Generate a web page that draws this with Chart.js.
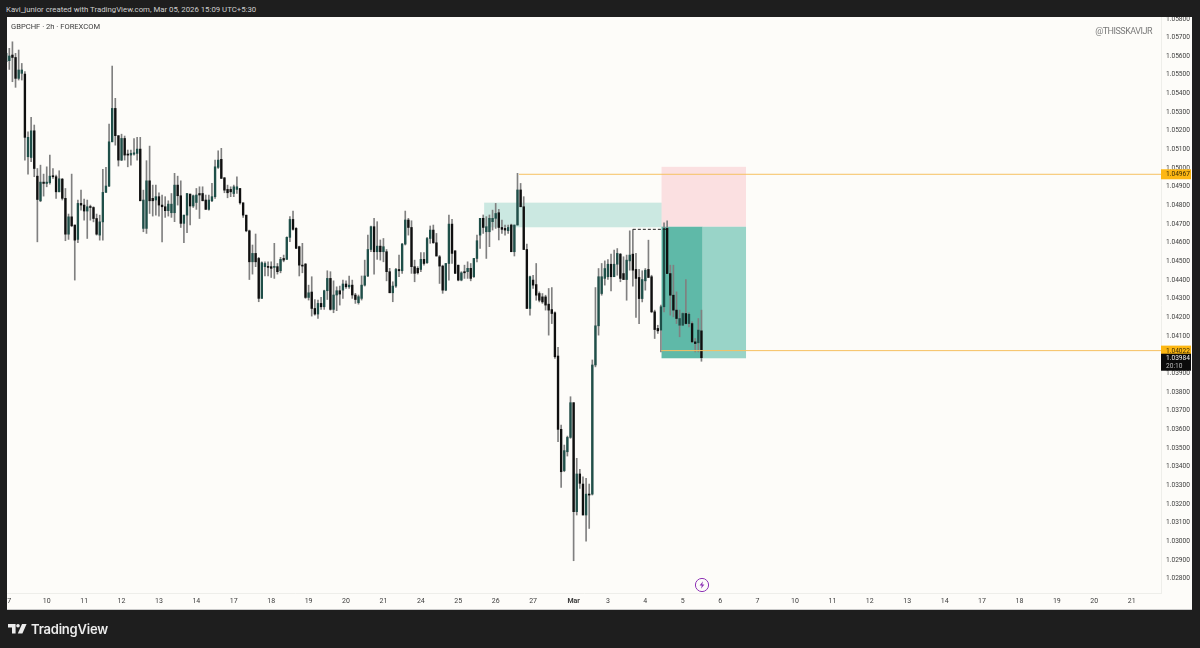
<!DOCTYPE html>
<html>
<head>
<meta charset="utf-8">
<title>GBPCHF 2h</title>
<script src="https://cdn.jsdelivr.net/npm/chart.js@4"></script>
<style>
  html, body { margin: 0; padding: 0; background: #1e1e1e; overflow: hidden; }
  #wrap { position: relative; width: 1200px; height: 648px; font-family: Roboto, sans-serif; }
  #myChart { position: absolute; left: 0; top: 0; }
  #header { position: absolute; left: 0; top: 0; width: 1200px; height: 17px; background: #1e1e1e; color: #cfcfcf; font-size: 7.8px; line-height: 19px; text-indent: 6px; white-space: nowrap; }
  #symbol { position: absolute; left: 11px; top: 21px; color: #3c3c3c; font-size: 7.6px; line-height: 12px; white-space: nowrap; }
  #handle { position: absolute; right: 48px; top: 25px; color: #7a7a7a; font-size: 9px; letter-spacing: -0.5px; line-height: 13px; white-space: nowrap; }
  #bolt { position: absolute; left: 694px; top: 577px; }
  #logo { position: absolute; left: 8px; top: 623.5px; }
  #brand { position: absolute; left: 31px; top: 619px; color: #ececec; font-family: Inter, sans-serif; font-weight: 600; font-size: 13px; line-height: 20px; letter-spacing: -0.2px; }
</style>
</head>
<body>
<div id="wrap">
  <canvas id="myChart" width="1200" height="648"></canvas>
  <div id="header">Kavi_junior created with TradingView.com, Mar 05, 2026 15:09 UTC+5:30</div>
  <div id="symbol">GBPCHF · 2h · FOREXCOM</div>
  <div id="handle">@THISSKAVIJR</div>
  <svg id="bolt" width="16" height="16" viewBox="0 0 16 16">
    <circle cx="8" cy="8" r="6.6" fill="none" stroke="#8e33b5" stroke-width="1"/>
    <path d="M9 4.2 5.6 8.6h2.2L7 11.8l3.4-4.4H8.2z" fill="#8e33b5"/>
  </svg>
  <svg id="logo" width="19" height="10" viewBox="0 0 19 10">
    <path d="M0 0h7.6v9.6H4V3.4H0z" fill="#ececec"/>
    <circle cx="10" cy="1.8" r="1.8" fill="#ececec"/>
    <path d="M14 0h4.6l-4.2 9.6H9.8z" fill="#ececec"/>
  </svg>
  <div id="brand">TradingView</div>
</div>

<script>
// prices below are in 1/100000, bar index is the 2h candle number

const opens = [
  105570,105576,105606,105593,105481,105508,105504,105061,105057,105200,
  104957,104825,104925,104918,104922,104959,104954,104873,104941,104838,
  104646,104739,104695,104618,104811,104802,104770,104793,104789,104730,
  104641,104712,104870,104904,105141,105320,105174,105043,105159,105075,
  105070,105075,105079,105102,104677,104677,104932,104838,104829,104847,
  104802,104793,104772,104761,104761,104909,104852,104704,104748,104861,
  104797,104816,104864,104864,104829,104779,104825,104847,105004,105047,
  104948,104886,104886,104864,104886,104891,104814,104748,104664,104498,
  104543,104516,104302,104472,104472,104472,104468,104472,104450,104516,
  104511,104629,104725,104677,104579,104480,104486,104307,104336,104248,
  104218,104275,104257,104343,104409,104243,104320,104343,104346,104379,
  104364,104373,104320,104279,104302,104373,104422,104564,104686,104552,
  104582,104552,104552,104445,104332,104368,104457,104450,104593,104722,
  104682,104472,104463,104457,104511,104493,104623,104668,104600,104525,
  104475,104346,104489,104700,104557,104480,104400,104445,104445,104463,
  104418,104516,104641,104731,104659,104659,104713,104731,104761,104682,
  104677,104665,104695,104552,104695,104883,104793,104564,104248,104400,
  104376,104328,104310,104310,104271,104242,104225,103993,103600,103379,
  103480,103557,103743,103159,103361,103307,103141,103253,103253,103945,
  104155,104328,104409,104418,104485,104418,104485,104539,104435,104403,
  104503,104539,104457,104414,104301,104396,104457,104418,104230,104141,
  104132,104257,104677,104435,104319,104239,104158,104158,104221,104167,
  104167,104069,104064,104128
];
const highs = [
  105624,105642,105677,105615,105633,105561,105517,105195,105272,105231,
  104998,105016,104968,105007,105070,104998,104963,104986,104945,104891,
  104754,104968,104695,104829,104882,104834,104829,104802,104793,104754,
  104748,104993,105004,105236,105547,105374,105174,105182,105172,105097,
  105097,105159,105165,105165,104882,105040,105118,104909,104909,104868,
  104856,104847,104825,104864,104972,104957,104932,104748,104864,104861,
  104856,104891,104900,104900,104856,104856,104918,105043,105093,105106,
  104950,104909,104900,104909,104954,104891,104814,104748,104668,104588,
  104647,104522,104498,104498,104498,104498,104597,104489,104522,104534,
  104632,104740,104770,104682,104582,104597,104489,104373,104418,104296,
  104293,104307,104346,104450,104445,104396,104364,104368,104400,104396,
  104422,104400,104329,104320,104422,104507,104641,104690,104731,104713,
  104615,104623,104564,104463,104391,104463,104534,104597,104770,104731,
  104718,104507,104472,104547,104547,104629,104690,104695,104650,104532,
  104480,104489,104749,104725,104557,104480,104445,104480,104498,104489,
  104516,104641,104731,104749,104740,104749,104775,104811,104779,104722,
  104695,104695,104700,104695,104972,104918,104847,104593,104422,104426,
  104489,104337,104328,104319,104355,104360,104230,104040,103623,103516,
  103564,103775,103743,103445,103386,103346,103337,103307,103972,104360,
  104462,104489,104503,104510,104539,104561,104569,104543,104525,104534,
  104664,104671,104543,104457,104450,104462,104614,104426,104239,104158,
  104266,104707,104718,104480,104480,104337,104239,104225,104403,104225,
  104176,104087,104194,104239
];
const lows = [
  105561,105529,105463,105433,105472,105472,105043,104968,105034,104954,
  104605,104820,104850,104900,104914,104945,104838,104873,104829,104611,
  104618,104686,104400,104600,104775,104721,104623,104721,104712,104641,
  104614,104614,104870,104900,105141,105123,105011,105040,105043,105007,
  105016,105070,105043,104825,104659,104650,104757,104743,104748,104743,
  104605,104736,104743,104736,104713,104802,104682,104600,104654,104695,
  104789,104779,104730,104825,104779,104775,104820,104838,104998,104945,
  104868,104841,104847,104847,104864,104807,104736,104659,104403,104432,
  104472,104284,104302,104422,104422,104414,104409,104432,104439,104498,
  104511,104606,104668,104570,104422,104439,104302,104293,104207,104212,
  104195,104243,104243,104296,104239,104225,104236,104266,104302,104355,
  104355,104302,104275,104271,104293,104368,104418,104552,104432,104511,
  104507,104498,104396,104332,104284,104361,104418,104436,104588,104641,
  104436,104391,104432,104445,104480,104489,104597,104597,104529,104382,
  104329,104343,104400,104489,104436,104396,104396,104409,104409,104396,
  104414,104498,104570,104650,104516,104579,104668,104677,104615,104650,
  104641,104650,104552,104529,104695,104793,104564,104248,104212,104355,
  104292,104283,104275,104239,104105,104167,103980,103534,103289,103373,
  103457,103552,102896,103141,103284,103141,103001,103069,103248,103935,
  104105,104319,104373,104403,104342,104418,104426,104391,104403,104292,
  104453,104368,104200,104167,104283,104346,104414,104225,104087,104114,
  104015,104230,104435,104212,104203,104167,104096,104158,104164,104149,
  104064,104015,104015,103965
];
const closes = [
  105615,105601,105593,105481,105526,105526,105165,105165,105200,104998,
  104832,104925,104918,104925,104957,104954,104873,104943,104838,104646,
  104739,104691,104614,104811,104802,104770,104793,104789,104730,104646,
  104712,104870,104904,105141,105320,105174,105043,105159,105070,105070,
  105079,105082,105102,104825,104829,104932,104825,104825,104847,104802,
  104793,104772,104807,104807,104909,104852,104704,104748,104864,104797,
  104852,104856,104856,104825,104779,104829,104847,105007,105043,104945,
  104882,104868,104873,104900,104900,104814,104748,104664,104498,104543,
  104498,104302,104493,104489,104468,104463,104472,104445,104511,104507,
  104629,104725,104672,104570,104480,104475,104307,104332,104248,104218,
  104275,104257,104343,104409,104243,104320,104343,104325,104379,104364,
  104373,104320,104296,104311,104373,104422,104564,104686,104552,104582,
  104552,104579,104445,104332,104368,104457,104450,104593,104722,104682,
  104472,104436,104439,104511,104489,104623,104668,104600,104529,104475,
  104346,104489,104700,104543,104436,104400,104439,104439,104463,104409,
  104516,104611,104731,104682,104686,104731,104731,104757,104682,104672,
  104668,104682,104552,104695,104883,104793,104564,104248,104418,104373,
  104319,104292,104283,104266,104239,104221,103989,103600,103373,103486,
  103557,103743,103159,103361,103311,103141,103253,103248,103945,104155,
  104418,104418,104462,104485,104418,104485,104543,104409,104403,104507,
  104534,104453,104409,104301,104403,104453,104414,104230,104135,104128,
  104257,104677,104435,104319,104239,104194,104194,104221,104167,104217,
  104069,104060,104132,103984
];

// axis ticks
const priceTicks = [
  1.058,1.057,1.056,1.055,1.054,1.053,1.052,1.051,1.05,1.049,1.048,1.047,1.046,1.045,1.044,1.043,
  1.042,1.041,1.04,1.039,1.038,1.037,1.036,1.035,1.034,1.033,1.032,1.031,1.03,1.029,1.028
];
const dayTickBars = [
  1,13,25,37,49,61,73,85,97,109,121,133,145,157,169,182,193,205,217,229,241,253,265,277,289,301,313,325,337,349,361
];
const dayTickLabels = [
  '7','10','11','12','13','14','17','18','19','20','21','24','25','26','27','Mar','3','4','5','6','7','10','11','12','13','14','17','18','19','20','21'
];

// shaded zones, [first bar, last bar]
const zoneBars = [[153.3, 211], [210.2, 237.3], [210.2, 223.4], [223.4, 237.3]];
const zonePrices = [[1.04815, 1.04683], [1.05007, 1.04686], [1.04686, 1.03981], [1.04686, 1.03981]];
const zoneColors = ['#cbe8e1', '#fbe0e1', '#5fb9a8', '#99d4c8'];

// drawn lines
const upperLevel = 1.04967;
const upperLevelFrom = 164.5;
const lowerLevel = 1.04022;
const lowerLevelFrom = 210.1;
const lastBar = 370.4;
const dashLevel = 1.04672;
const dashBars = [201, 211.7];

const lastPrice = 1.03984;
const countdown = '20:10';

const ORANGE = '#f6c161';
const UP = '#1f4f49';
const DOWN = '#0f0f0f';
const toPrice = (v) => v / 100000;

const wicks = highs.map((h, i) => ({ x: i, y: [toPrice(lows[i]), toPrice(h)] }));
const bodies = opens.map((o, i) => ({ x: i, y: [toPrice(o), toPrice(closes[i])] }));
const bodyColors = opens.map((o, i) => (closes[i] >= o ? UP : DOWN));

// zones plugin block
const zones = {
  id: 'zones',
  beforeDraw(chart) {
    const { ctx, chartArea: { top, bottom, left, right } } = chart;
    ctx.save();
    ctx.fillStyle = '#fdfcf9';
    ctx.fillRect(left, top, right - left + 31, bottom - top + 16);
    ctx.fillStyle = '#c9c9c9';
    ctx.fillRect(left, bottom + 16, right - left + 31, 1);
    ctx.restore();
  },
  beforeDatasetsDraw(chart) {
    const { ctx, scales: { x, y } } = chart;
    ctx.save();
    zoneBars.forEach((bars, i) => {
      const x0 = x.getPixelForValue(bars[0]);
      const x1 = x.getPixelForValue(bars[1]);
      const y0 = y.getPixelForValue(zonePrices[i][0]);
      const y1 = y.getPixelForValue(zonePrices[i][1]);
      ctx.fillStyle = zoneColors[i];
      ctx.fillRect(x0, y0, x1 - x0, y1 - y0);
    });
    ctx.restore();
  }
};

// price labels on the axis
const priceLabels = {
  id: 'priceLabels',
  afterDraw(chart) {
    const { ctx, chartArea: { right }, scales: { y } } = chart;
    ctx.save();
    ctx.textBaseline = 'middle';
    ctx.textAlign = 'left';
    ctx.font = '6.6px Roboto';

    [upperLevel, lowerLevel].forEach((level) => {
      const py = y.getPixelForValue(level);
      ctx.fillStyle = '#fdb713';
      ctx.fillRect(right, py - 5, 30, 10);
      ctx.fillStyle = '#3a2c05';
      ctx.fillText(level.toFixed(5), right + 5, py + 0.5);
    });

    const py = y.getPixelForValue(lastPrice);
    ctx.fillStyle = '#0b0b0b';
    ctx.fillRect(right, py - 4, 30, 17);
    ctx.fillStyle = '#f2f2f2';
    ctx.fillText(lastPrice.toFixed(5), right + 5, py + 1);
    ctx.fillStyle = '#bdbdbd';
    ctx.fillText(countdown, right + 5, py + 9);
    ctx.restore();
  }
};

const config = {
  data: {
    datasets: [
      {
        type: 'line',
        data: [{ x: upperLevelFrom, y: upperLevel }, { x: lastBar, y: upperLevel }],
        borderColor: ORANGE,
        borderWidth: 1,
        pointRadius: 0,
        order: 1
      },
      {
        type: 'line',
        data: [{ x: lowerLevelFrom, y: lowerLevel }, { x: lastBar, y: lowerLevel }],
        borderColor: ORANGE,
        borderWidth: 1,
        pointRadius: 0,
        order: 1
      },
      {
        type: 'line',
        data: [{ x: dashBars[0], y: dashLevel }, { x: dashBars[1], y: dashLevel }],
        borderColor: '#222222',
        borderWidth: 1,
        borderDash: [3, 2],
        pointRadius: 0,
        order: 1
      },
      {
        type: 'bar',
        data: bodies,
        backgroundColor: bodyColors,
        barThickness: 1.7,
        minBarLength: 1,
        borderSkipped: false,
        grouped: false,
        order: 2
      },
      {
        type: 'bar',
        data: wicks,
        backgroundColor: '#808080',
        barThickness: 1,
        borderSkipped: false,
        grouped: false,
        order: 3
      }
    ]
  },
  options: {
    responsive: false,
    animation: false,
    layout: {
      padding: { left: 7, top: 17, right: 8, bottom: 39 }
    },
    scales: {
      x: {
        type: 'linear',
        offset: false,
        min: 0.26,
        max: lastBar,
        grid: { display: false, drawTicks: false },
        border: { display: true, color: '#eeeeea' },
        afterBuildTicks: (axis) => {
          axis.ticks = dayTickBars.map((v) => ({ value: v }));
        },
        afterFit: (axis) => {
          axis.height = 16;
        },
        ticks: {
          autoSkip: false,
          maxRotation: 0,
          padding: 4,
          color: '#3c3c3c',
          font: (c) => ({
            family: 'Roboto',
            size: 7,
            weight: c.tick && c.tick.value === 182 ? 'bold' : 'normal'
          }),
          callback: (value) => dayTickLabels[dayTickBars.indexOf(value)]
        }
      },
      y: {
        position: 'right',
        min: 1.027231,
        max: 1.058099,
        grid: { display: false, drawTicks: false },
        border: { display: true, color: '#eeeeea' },
        afterBuildTicks: (axis) => {
          axis.ticks = priceTicks.map((v) => ({ value: v }));
        },
        afterFit: (axis) => {
          axis.width = 31;
        },
        ticks: {
          autoSkip: false,
          padding: 5,
          color: '#3c3c3c',
          font: { family: 'Roboto', size: 6.6 },
          callback: (value) => value.toFixed(5)
        }
      }
    },
    plugins: {
      legend: { display: false },
      tooltip: { enabled: false }
    }
  },
  plugins: [zones, priceLabels]
};

const myChart = new Chart(document.getElementById('myChart'), config);
</script>
</body>
</html>
